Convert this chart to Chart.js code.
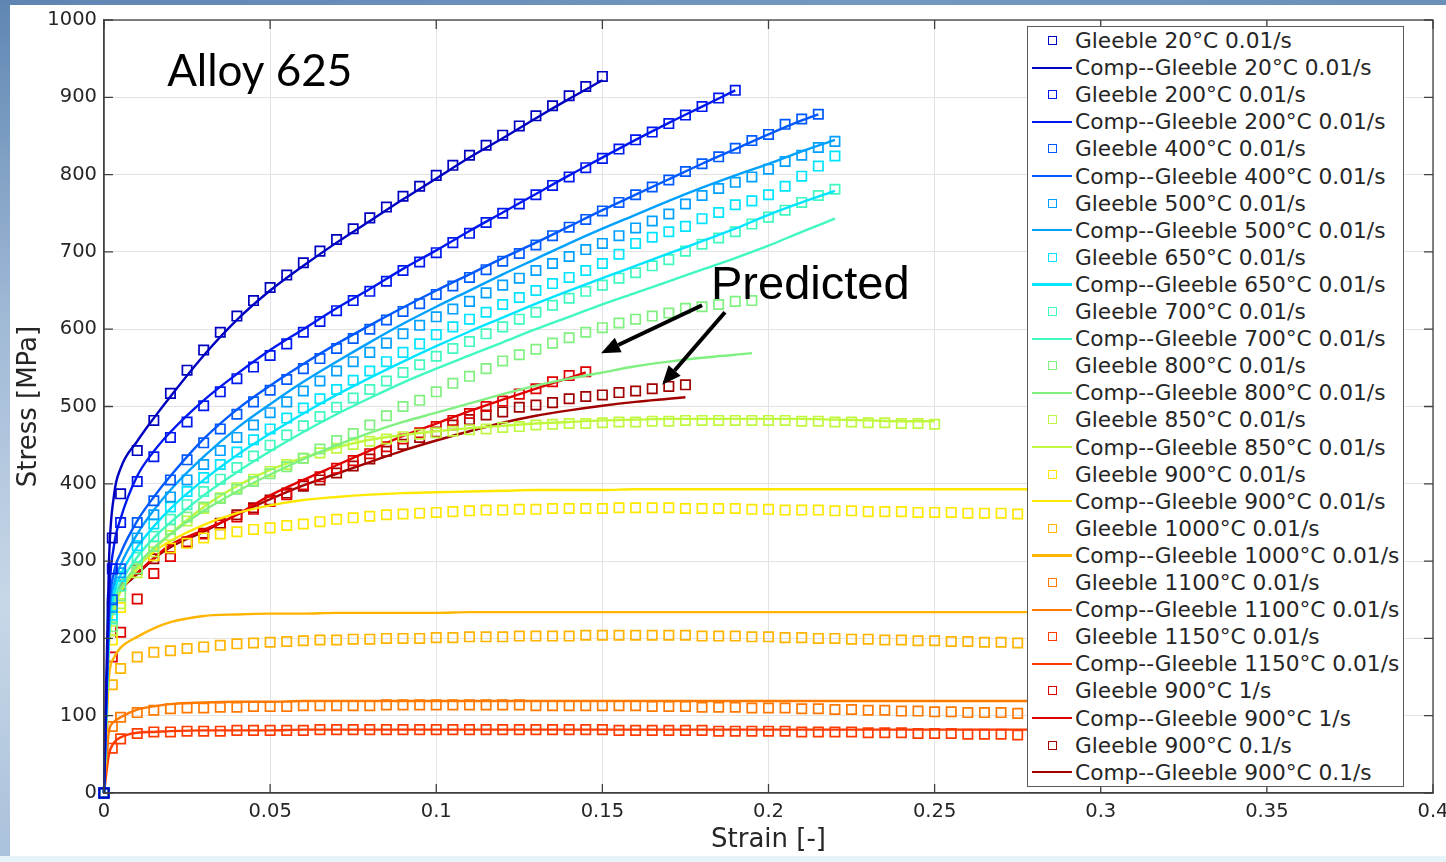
<!DOCTYPE html>
<html>
<head>
<meta charset="utf-8">
<title>Alloy 625 - stress strain</title>
<script src="https://cdn.jsdelivr.net/npm/chart.js@4.4.1/dist/chart.umd.min.js"></script>
<style>
  html, body { margin: 0; padding: 0; background: #fff; overflow: hidden; }
  #wrap { position: relative; width: 1446px; height: 862px; }
  .band-top { position: absolute; left: 0; top: 0; width: 1446px; height: 5px; background: linear-gradient(90deg, #5f86b2, #7399c2 60%, #6a90ba); }
  .band-left { position: absolute; left: 0; top: 0; width: 10px; height: 862px; background: linear-gradient(180deg, #5f86b2 0%, #9db7d4 35%, #c8d7e8 70%, #a9c1da 100%); }
  .band-bottom { position: absolute; left: 0; top: 856px; width: 1446px; height: 6px; background: #e6f3f8; }
  #chart { position: absolute; left: 0; top: 0; }
  #legend {
    position: absolute; left: 1027px; top: 26px; width: 377px; height: 761px;
    box-sizing: border-box; border: 1px solid #5a5a5a; background: #fff;
    font-family: 'DejaVu Sans', sans-serif; font-size: 21.7px; color: #262626;
  }
  #legend .row { position: absolute; left: 0; width: 100%; height: 27.1px; line-height: 27.1px; white-space: nowrap; }
  #legend .mark { position: absolute; left: 19.5px; top: 9px; width: 9px; height: 9px; box-sizing: border-box; border: 1.7px solid; }
  #legend .line { position: absolute; left: 4px; top: 12.5px; width: 40px; height: 2.2px; }
  #legend .txt { position: absolute; left: 47px; top: 0; }
</style>
</head>
<body>
<div id="wrap">
  <div class="band-top"></div>
  <div class="band-left"></div>
  <div class="band-bottom"></div>
  <canvas id="chart" width="1446" height="862"></canvas>
  <div id="legend"></div>
</div>
<script>
// Alloy 625 flow curves: Gleeble tests (squares) vs computed curves (lines)

// strain where the Gleeble samples sit
const testStrain = [0, 0.0025, 0.005, 0.01, 0.015, 0.02, 0.025, 0.03, 0.035, 0.04, 0.045, 0.05, 0.055, 0.06, 0.065, 0.07, 0.075, 0.08, 0.085, 0.09, 0.095, 0.1, 0.105, 0.11, 0.115, 0.12, 0.125, 0.13, 0.135, 0.14, 0.145, 0.15, 0.155, 0.16, 0.165, 0.17, 0.175, 0.18, 0.185, 0.19, 0.195, 0.2, 0.205, 0.21, 0.215, 0.22, 0.225, 0.23, 0.235, 0.24, 0.245, 0.25, 0.255, 0.26, 0.265, 0.27, 0.275];

// strain where the computed curves are sampled
const compStrain = [0, 0.0015, 0.003, 0.005, 0.01, 0.015, 0.02, 0.03, 0.04, 0.05, 0.06, 0.07, 0.08, 0.09, 0.1, 0.11, 0.12, 0.13, 0.14, 0.15, 0.16, 0.17, 0.18, 0.19, 0.2, 0.21, 0.22, 0.23, 0.24, 0.25, 0.26, 0.27, 0.28, 0.29, 0.3];

const conditions = ['20°C 0.01/s', '200°C 0.01/s', '400°C 0.01/s', '500°C 0.01/s', '650°C 0.01/s', '700°C 0.01/s', '800°C 0.01/s', '850°C 0.01/s', '900°C 0.01/s', '1000°C 0.01/s', '1100°C 0.01/s', '1150°C 0.01/s', '900°C 1/s', '900°C 0.1/s'];
const colors = ['#0000c0', '#0018f0', '#0058ff', '#00a0ff', '#00e4ff', '#40f8c0', '#80f080', '#c0f840', '#ffe800', '#ffb400', '#ff7800', '#ff3c00', '#e00000', '#a00000'];
// last strain of each computed curve
const compEnd = [0.15, 0.19, 0.215, 0.22, 0.22, 0.22, 0.195, 0.25, 0.3, 0.3, 0.3, 0.3, 0.145, 0.175];

// Gleeble stress [MPa]
const test20 = [0, 330, 387, 443, 482, 517, 547, 573, 596, 617, 637, 654, 670, 686, 701, 716, 730, 744, 758, 772, 785, 799, 812, 825, 838, 851, 863, 876, 889, 902, 914, 927];
const test200 = [0, 290, 350, 403, 435, 460, 480, 501, 519, 536, 551, 566, 581, 596, 610, 624, 637, 649, 662, 676, 687, 699, 712, 724, 738, 750, 762, 774, 786, 797, 809, 821, 833, 845, 855, 866, 877, 888, 899, 909];
const test400 = [0, 250, 290, 350, 378, 405, 431, 453, 471, 490, 506, 521, 535, 549, 562, 575, 588, 600, 612, 623, 633, 645, 656, 667, 677, 688, 698, 709, 721, 732, 742, 753, 764, 774, 784, 793, 804, 814, 823, 834, 844, 852, 865, 872, 878];
const test500 = [0, 240, 285, 330, 360, 383, 405, 425, 443, 460, 476, 492, 506, 520, 533, 546, 558, 570, 582, 594, 605, 616, 626, 636, 647, 657, 666, 676, 685, 694, 703, 711, 721, 731, 740, 749, 762, 773, 782, 790, 797, 807, 817, 825, 835, 843];
const test650 = [0, 230, 280, 320, 348, 370, 390, 408, 425, 441, 457, 471, 485, 498, 510, 522, 534, 546, 558, 570, 581, 593, 603, 613, 622, 632, 641, 650, 659, 667, 676, 685, 697, 711, 719, 726, 733, 743, 751, 761, 766, 774, 785, 798, 811, 824];
const test700 = [0, 225, 268, 305, 332, 354, 373, 390, 406, 421, 436, 450, 463, 475, 487, 499, 511, 522, 533, 544, 554, 565, 575, 584, 594, 603, 613, 622, 631, 640, 649, 657, 666, 673, 682, 690, 701, 710, 718, 726, 736, 745, 754, 764, 773, 781];
const test800 = [0, 215, 255, 290, 319, 341, 357, 370, 381, 393, 403, 413, 422, 433, 445, 456, 465, 476, 488, 500, 508, 519, 530, 539, 549, 559, 567, 574, 582, 589, 596, 602, 608, 613, 617, 621, 627, 629, 632, 636, 637];
const test850 = [0, 210, 245, 285, 312, 333, 352, 368, 382, 395, 406, 416, 425, 433, 440, 446, 451, 455, 458, 461, 464, 466, 468, 470, 471, 473, 474, 476, 477, 478, 478, 479, 480, 480, 481, 481, 482, 482, 482, 482, 482, 482, 482, 481, 481, 480, 480, 479, 479, 478, 478, 477];
const test900 = [0, 198, 240, 290, 307, 317, 323, 330, 335, 338, 341, 343, 346, 348, 351, 354, 356, 358, 360, 361, 362, 363, 364, 365, 366, 366, 367, 367, 368, 368, 368, 368, 369, 369, 369, 369, 368, 368, 368, 368, 367, 367, 366, 366, 366, 365, 365, 364, 364, 364, 363, 363, 363, 362, 362, 362, 361];
const test1000 = [0, 140, 161, 176, 182, 184, 187, 189, 191, 193, 194, 195, 196, 197, 198, 198, 199, 199, 200, 200, 200, 201, 201, 202, 202, 202, 203, 203, 203, 203, 204, 204, 204, 204, 204, 204, 204, 203, 203, 203, 202, 202, 201, 201, 200, 200, 199, 199, 198, 198, 197, 197, 196, 196, 195, 195, 194];
const test1100 = [0, 86, 98, 104, 107, 109, 110, 110, 111, 111, 112, 112, 112, 113, 113, 113, 113, 113, 114, 114, 114, 114, 114, 114, 114, 114, 114, 113, 113, 113, 113, 113, 113, 113, 112, 112, 112, 111, 111, 111, 110, 110, 110, 109, 109, 108, 108, 107, 107, 106, 106, 105, 105, 104, 104, 104, 103];
const test1150 = [0, 58, 70, 77, 79, 79, 80, 80, 80, 81, 81, 81, 81, 81, 82, 82, 82, 82, 82, 82, 82, 82, 82, 82, 82, 82, 82, 82, 82, 82, 82, 82, 81, 81, 81, 81, 81, 81, 80, 80, 80, 80, 80, 79, 79, 79, 79, 78, 78, 78, 77, 77, 77, 76, 76, 76, 75];
const test900fast = [0, 176, 208, 251, 284, 306, 325, 335, 347, 357, 367, 377, 386, 399, 409, 420, 430, 439, 448, 458, 466, 474, 482, 491, 500, 507, 516, 523, 532, 540, 545];
const test900mid = [0, 245, 269, 289, 303, 316, 324, 336, 349, 360, 369, 379, 388, 397, 405, 414, 423, 432, 442, 451, 460, 467, 476, 483, 489, 493, 499, 502, 505, 510, 513, 515, 518, 520, 523, 526, 528];

// computed stress [MPa]
const comp20 = [0, 300, 385, 420, 455, 485, 513, 566, 612, 650, 682, 712, 740, 768, 795, 822, 847, 873, 898, 922];
const comp200 = [0, 250, 320, 355, 410, 442, 467, 508, 542, 573, 600, 627, 652, 678, 702, 727, 751, 775, 799, 822, 845, 867, 888, 909];
const comp400 = [0, 230, 285, 310, 352, 383, 410, 458, 496, 527, 555, 581, 605, 628, 650, 671, 692, 712, 733, 754, 774, 794, 814, 833, 852, 870, 878];
const comp500 = [0, 220, 270, 295, 335, 366, 392, 435, 472, 503, 532, 558, 583, 607, 629, 650, 671, 691, 711, 730, 748, 766, 783, 799, 814, 830, 845];
const comp650 = [0, 210, 258, 282, 318, 345, 368, 405, 437, 465, 491, 515, 537, 558, 578, 597, 615, 633, 650, 666, 682, 698, 714, 730, 748, 764, 779];
const comp700 = [0, 205, 250, 272, 305, 330, 350, 385, 415, 442, 467, 490, 511, 531, 549, 566, 583, 600, 616, 632, 647, 662, 677, 692, 708, 726, 743];
const comp800 = [0, 200, 245, 265, 295, 317, 335, 365, 390, 412, 432, 450, 466, 480, 492, 504, 516, 527, 536, 544, 552, 558, 563, 567, 569];
const comp850 = [0, 200, 240, 260, 290, 315, 335, 370, 397, 418, 434, 447, 457, 463, 468, 472, 475, 478, 480, 482, 483, 484, 484, 484, 484, 484, 483, 482, 481, 481];
const comp900 = [0, 190, 240, 262, 292, 312, 326, 347, 362, 372, 379, 383, 386, 388, 389, 390, 391, 392, 392, 392, 393, 393, 393, 393, 393, 393, 393, 393, 393, 393, 393, 393, 393, 393, 393];
const comp1000 = [0, 150, 175, 188, 202, 213, 221, 229, 231, 232, 232, 233, 233, 233, 233, 234, 234, 234, 234, 234, 234, 234, 234, 234, 234, 234, 234, 234, 234, 234, 234, 234, 234, 234, 234];
const comp1100 = [0, 80, 92, 98, 108, 112, 115, 117, 118, 118, 119, 119, 119, 119, 119, 119, 119, 119, 119, 119, 119, 119, 119, 119, 119, 119, 119, 119, 119, 119, 119, 119, 119, 119, 119];
const comp1150 = [0, 50, 65, 72, 78, 79, 80, 81, 81, 81, 82, 82, 82, 82, 82, 82, 82, 82, 82, 82, 82, 82, 82, 82, 82, 82, 82, 82, 82, 82, 82, 82, 82, 82, 82];
const comp900fast = [0, 200, 250, 268, 285, 304, 321, 340, 360, 385, 405, 424, 443, 462, 478, 494, 509, 523, 537, 544];
const comp900mid = [0, 200, 245, 262, 283, 303, 318, 338, 360, 380, 398, 413, 428, 443, 456, 468, 479, 488, 495, 501, 506, 510, 512];

const xTicks = [0, 0.05, 0.1, 0.15, 0.2, 0.25, 0.3, 0.35, 0.4];

// annotations, in data units
const alloyLabel = { text: 'Alloy 625', x: 0.019, y: 915 };
const predictedLabel = { text: 'Predicted', x: 0.1827, y: 639 };
const arrows = [
  { from: [0.18, 631], to: [0.1496, 569] },
  { from: [0.1869, 622], to: [0.168, 528] }
];

const testSeries = [test20, test200, test400, test500, test650, test700, test800, test850, test900, test1000, test1100, test1150, test900fast, test900mid];
const compSeries = [comp20, comp200, comp400, comp500, comp650, comp700, comp800, comp850, comp900, comp1000, comp1100, comp1150, comp900fast, comp900mid];

function testPoints(vals) {
  return vals.map((y, i) => ({ x: testStrain[i], y: y }));
}

function compPoints(vals, end) {
  const xs = compStrain.filter(x => x <= end);
  if (xs[xs.length - 1] !== end) xs.push(end);
  return vals.map((y, i) => ({ x: xs[i], y: y }));
}

const datasets = [];
conditions.forEach((name, i) => {
  datasets.push({
    label: 'Gleeble ' + name,
    data: testPoints(testSeries[i]),
    showLine: false,
    borderColor: colors[i],
    backgroundColor: 'rgba(0,0,0,0)',
    pointStyle: 'rect',
    pointRadius: 6.6,
    pointBorderWidth: 1.7,
    pointBorderColor: colors[i],
    pointBackgroundColor: 'rgba(0,0,0,0)',
    clip: false
  });
  datasets.push({
    label: 'Comp--Gleeble ' + name,
    data: compPoints(compSeries[i], compEnd[i]),
    showLine: true,
    borderColor: colors[i],
    backgroundColor: colors[i],
    borderWidth: 2.4,
    pointRadius: 0,
    pointHoverRadius: 0,
    cubicInterpolationMode: 'monotone',
    clip: false
  });
});

// box, inward ticks and the text/arrow annotations
const framePlugin = {
  id: 'frame',
  afterDraw(chart) {
    const { ctx, chartArea: a, scales } = chart;
    const x = scales.x, y = scales.y;
    ctx.save();
    ctx.strokeStyle = '#404040';
    ctx.lineWidth = 1.3;
    ctx.strokeRect(a.left, a.top, a.right - a.left, a.bottom - a.top);
    ctx.beginPath();
    x.ticks.forEach(t => {
      const px = x.getPixelForValue(t.value);
      ctx.moveTo(px, a.bottom); ctx.lineTo(px, a.bottom - 9);
      ctx.moveTo(px, a.top); ctx.lineTo(px, a.top + 9);
    });
    y.ticks.forEach(t => {
      const py = y.getPixelForValue(t.value);
      ctx.moveTo(a.left, py); ctx.lineTo(a.left + 9, py);
      ctx.moveTo(a.right, py); ctx.lineTo(a.right - 9, py);
    });
    ctx.stroke();

    ctx.fillStyle = '#000';
    ctx.textBaseline = 'alphabetic';
    ctx.textAlign = 'left';
    ctx.font = '44px Lato, sans-serif';
    ctx.fillText(alloyLabel.text, x.getPixelForValue(alloyLabel.x), y.getPixelForValue(alloyLabel.y));
    ctx.font = '47px "Liberation Sans", Arial, sans-serif';
    ctx.fillText(predictedLabel.text, x.getPixelForValue(predictedLabel.x), y.getPixelForValue(predictedLabel.y));

    arrows.forEach(ar => {
      const x0 = x.getPixelForValue(ar.from[0]), y0 = y.getPixelForValue(ar.from[1]);
      const x1 = x.getPixelForValue(ar.to[0]), y1 = y.getPixelForValue(ar.to[1]);
      const ang = Math.atan2(y1 - y0, x1 - x0);
      const head = 19, half = 8;
      const bx = x1 - head * Math.cos(ang), by = y1 - head * Math.sin(ang);
      ctx.strokeStyle = '#000';
      ctx.lineWidth = 4;
      ctx.beginPath();
      ctx.moveTo(x0, y0);
      ctx.lineTo(bx, by);
      ctx.stroke();
      ctx.beginPath();
      ctx.moveTo(x1, y1);
      ctx.lineTo(bx + half * Math.sin(ang), by - half * Math.cos(ang));
      ctx.lineTo(bx - half * Math.sin(ang), by + half * Math.cos(ang));
      ctx.closePath();
      ctx.fill();
    });
    ctx.restore();
  }
};

const chart = new Chart(document.getElementById('chart'), {
  type: 'scatter',
  data: { datasets: datasets },
  options: {
    responsive: false,
    animation: false,
    layout: { autoPadding: false, padding: { left: 0, top: 20, right: 13, bottom: 0 } },
    plugins: {
      legend: { display: false },
      tooltip: { enabled: false }
    },
    scales: {
      x: {
        type: 'linear',
        min: 0,
        max: 0.4,
        afterBuildTicks: s => { s.ticks = xTicks.map(v => ({ value: v })); },
        afterFit: s => { s.height = 69; s.paddingLeft = 0; s.paddingRight = 0; },
        grid: { color: '#e3e3e3', drawTicks: false },
        border: { color: '#404040', width: 1.3 },
        ticks: {
          padding: 7,
          color: '#262626',
          font: { family: 'DejaVu Sans', size: 19.5 },
          maxRotation: 0,
          callback: v => String(+v.toFixed(3))
        },
        title: {
          display: true,
          text: 'Strain [-]',
          color: '#262626',
          font: { family: 'DejaVu Sans', size: 26 },
          padding: { top: 0, bottom: 6 }
        }
      },
      y: {
        min: 0,
        max: 1000,
        afterFit: s => { s.width = 104; s.paddingTop = 0; s.paddingBottom = 0; },
        grid: { color: '#e3e3e3', drawTicks: false },
        border: { color: '#404040', width: 1.3 },
        ticks: {
          stepSize: 100,
          padding: 7,
          color: '#262626',
          font: { family: 'DejaVu Sans', size: 19.5 },
          callback: v => String(v)
        },
        title: {
          display: true,
          text: 'Stress [MPa]',
          color: '#262626',
          font: { family: 'DejaVu Sans', size: 26 },
          padding: { top: 14, bottom: 0 }
        }
      }
    }
  },
  plugins: [framePlugin]
});

// legend box drawn as html on top of the plot
function buildLegend(chart) {
  const box = document.getElementById('legend');
  chart.data.datasets.forEach((ds, i) => {
    const row = document.createElement('div');
    row.className = 'row';
    row.style.top = (i * 27.1) + 'px';
    const sym = document.createElement('span');
    if (ds.showLine) {
      sym.className = 'line';
      sym.style.background = ds.borderColor;
    } else {
      sym.className = 'mark';
      sym.style.borderColor = ds.borderColor;
    }
    const txt = document.createElement('span');
    txt.className = 'txt';
    txt.textContent = ds.label;
    row.appendChild(sym);
    row.appendChild(txt);
    box.appendChild(row);
  });
}

buildLegend(chart);
</script>
</body>
</html>
